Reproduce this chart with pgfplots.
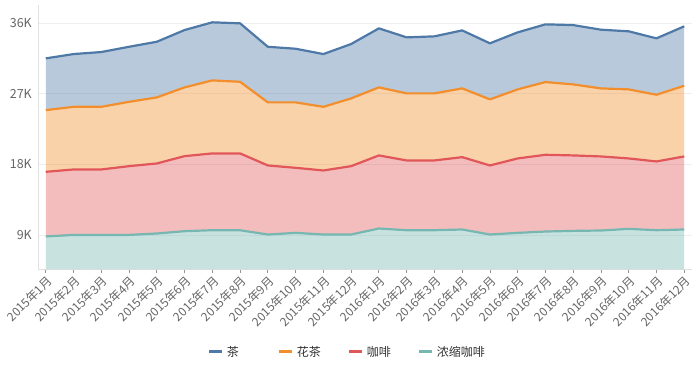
\documentclass[border=0pt]{standalone}
\usepackage{fontspec}
\setmainfont{Noto Sans CJK SC}
\usepackage{pgfplots}
\usepackage{pgfplotstable}
\pgfplotsset{compat=1.18}
\definecolor{ctea}{HTML}{4E79A7}
\definecolor{cflower}{HTML}{F28E2B}
\definecolor{ccoffee}{HTML}{E15759}
\definecolor{cesp}{HTML}{76B7B2}
\definecolor{tickgray}{HTML}{666666}
\definecolor{gridgray}{HTML}{EEEEEE}
\definecolor{axgray}{HTML}{E0E0E0}
\pgfplotstableread{
x esp coffee flower tea
0  8810 8245 7875 6600
1  9010 8350 7990 6730
2  9010 8350 7990 6990
3  9010 8770 8210 7020
4  9190 8935 8425 7100
5  9485 9575 8770 7315
6  9610 9795 9315 7410
7  9600 9805 9140 7455
8  9060 8810 8045 7095
9  9270 8300 8345 6845
10 9060 8170 8120 6730
11 9060 8720 8645 6935
12 9825 9325 8680 7530
13 9610 8900 8555 7145
14 9610 8900 8555 7275
15 9700 9230 8770 7400
16 9060 8810 8430 7150
17 9270 9495 8810 7275
18 9440 9790 9280 7360
19 9525 9625 9060 7570
20 9570 9450 8680 7490
21 9780 8985 8810 7405
22 9610 8770 8510 7195
23 9700 9320 9020 7580
}\datatable
\pgfplotsset{common/.style={
  at={(0,0)}, anchor=south west,
  scale only axis, width=654pt, height=264pt,
  xmin=-0.28, xmax=23.28, ymin=4660, ymax=38340,
  stack plots=y}}
\begin{document}
\begin{tikzpicture}
\path[use as bounding box] (-38pt,-96pt) rectangle (662pt,269pt);
\begin{axis}[
  common,
  axis x line=bottom, axis y line=left,
  axis line style={draw=axgray, line width=0.8pt, -},
  ymajorgrids, grid style={draw=gridgray, line width=0.8pt},
  ytick={9000,18000,27000,36000},
  yticklabels={9K,18K,27K,36K},
  ytick style={draw=none},
  xtick={0,...,23},
  xticklabels={2015年1月,2015年2月,2015年3月,2015年4月,2015年5月,2015年6月,2015年7月,2015年8月,2015年9月,2015年10月,2015年11月,2015年12月,2016年1月,2016年2月,2016年3月,2016年4月,2016年5月,2016年6月,2016年7月,2016年8月,2016年9月,2016年10月,2016年11月,2016年12月},
  xtick style={draw=tickgray!70, line width=0.8pt},
  tick align=outside, major tick length=4pt,
  xticklabel style={rotate=45, anchor=north east, font=\fontsize{12}{14}\selectfont, text=tickgray, inner sep=1pt},
  yticklabel style={font=\fontsize{12.5}{14}\selectfont, text=tickgray, inner sep=2pt},
  /pgf/number format/assume math mode=true,
  reverse legend,
  legend columns=4,
  legend style={at={(0.254,-0.314)}, anchor=west, draw=none, fill=none,
    font=\fontsize{12}{14}\selectfont, text=black!80,
    /tikz/every even column/.append style={column sep=0pt}},
]
\addplot[draw=none, fill=cesp, fill opacity=0.4, legend image code/.code={\draw[cesp, line width=3pt] (0pt,0pt) -- (13pt,0pt);}] table[x=x,y=esp]{\datatable} \closedcycle;
\addplot[draw=none, fill=ccoffee, fill opacity=0.4, legend image code/.code={\draw[ccoffee, line width=3pt] (0pt,0pt) -- (13pt,0pt);}] table[x=x,y=coffee]{\datatable} \closedcycle;
\addplot[draw=none, fill=cflower, fill opacity=0.4, legend image code/.code={\draw[cflower, line width=3pt] (0pt,0pt) -- (13pt,0pt);}] table[x=x,y=flower]{\datatable} \closedcycle;
\addplot[draw=none, fill=ctea, fill opacity=0.4, legend image code/.code={\draw[ctea, line width=3pt] (0pt,0pt) -- (13pt,0pt);}] table[x=x,y=tea]{\datatable} \closedcycle;
\legend{\hspace{1.5pt}\makebox[48.5pt][l]{浓缩咖啡},\hspace{1.5pt}\makebox[48.5pt][l]{咖啡},\hspace{1.5pt}\makebox[48.5pt][l]{花茶},\hspace{1.5pt}\makebox[48.5pt][l]{茶}}
\end{axis}
\begin{axis}[common, hide axis]
\addplot[draw=cesp, line width=2.2pt, line join=round] table[x=x,y=esp]{\datatable};
\addplot[draw=ccoffee, line width=2.2pt, line join=round] table[x=x,y=coffee]{\datatable};
\addplot[draw=cflower, line width=2.2pt, line join=round] table[x=x,y=flower]{\datatable};
\addplot[draw=ctea, line width=2.2pt, line join=round] table[x=x,y=tea]{\datatable};
\end{axis}
\end{tikzpicture}
\end{document}
